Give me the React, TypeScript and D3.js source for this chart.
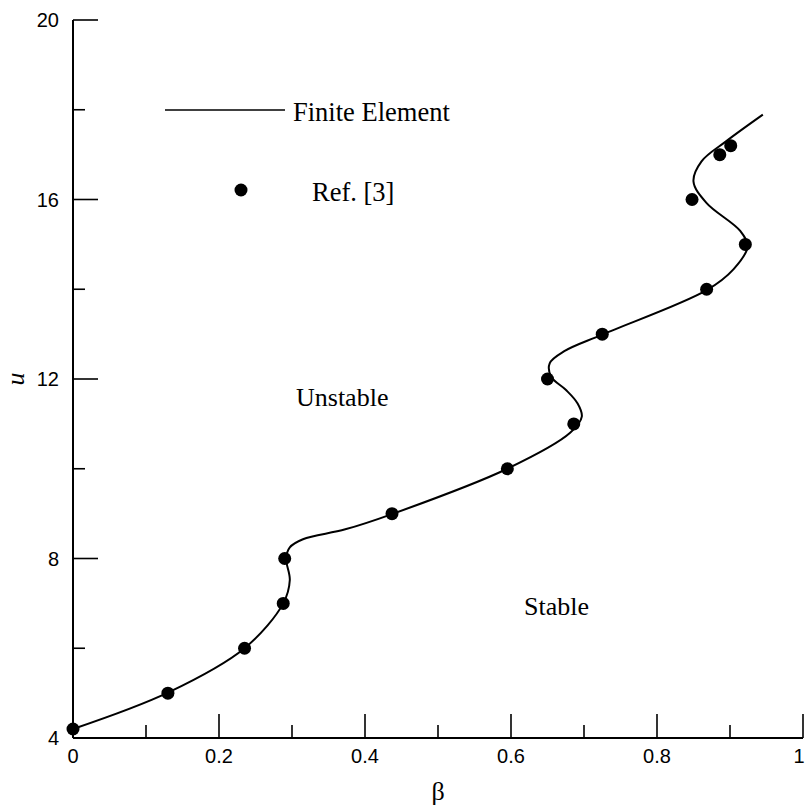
import { useEffect, useRef } from "react";
import * as d3 from "d3";

// finite element curve (beta, u)
const FE_BETA = [
  0, 0.13, 0.235, 0.288, 0.297, 0.292, 0.297, 0.315, 0.373, 0.437, 0.595, 0.681,
  0.697, 0.691, 0.675, 0.655, 0.653, 0.673, 0.725, 0.868, 0.905, 0.924, 0.914,
  0.868, 0.85, 0.861, 0.895, 0.945,
];
const FE_U = [
  4.2, 5.01, 6.0, 7.0, 7.52, 8.0, 8.25, 8.43, 8.65, 8.99, 10.0, 10.8, 11.16,
  11.46, 11.76, 12.05, 12.35, 12.62, 12.99, 13.98, 14.45, 14.95, 15.3, 15.92,
  16.4, 16.85, 17.3, 17.89,
];

// Ref. [3] points
const REF_BETA = [0, 0.13, 0.235, 0.288, 0.29, 0.437, 0.595, 0.686, 0.65, 0.725, 0.868, 0.921, 0.848, 0.886, 0.901];
const REF_U = [4.2, 5.0, 6.0, 7.0, 8.0, 9.0, 10.0, 11.0, 12.0, 13.0, 14.0, 15.0, 16.0, 17.0, 17.2];

const BETA_MAJOR = [0, 0.2, 0.4, 0.6, 0.8, 1];
const BETA_LABELS = ["0", "0.2", "0.4", "0.6", "0.8", "1"];
const BETA_MINOR = [0.1, 0.3, 0.5, 0.7, 0.9];
const U_MAJOR = [4, 8, 12, 16, 20];
const U_LABELS = ["4", "8", "12", "16", "20"];
const U_MINOR = [6, 10, 14, 18];

export default function App() {
  const ref = useRef<SVGSVGElement | null>(null);

  useEffect(() => {
    const svg = d3.select(ref.current);
    svg.selectAll("*").remove();

    const x = d3.scaleLinear().domain([0, 1]).range([73, 803]);
    const y = d3.scaleLinear().domain([4, 20]).range([738, 20]);
    const sans = "'Liberation Sans', Arial, sans-serif";
    const serif = "'Liberation Serif', 'Times New Roman', serif";

    // axes
    svg.append("line").attr("x1", x(0)).attr("x2", x(0)).attr("y1", y(20)).attr("y2", y(4))
      .attr("stroke", "#000").attr("stroke-width", 2);
    svg.append("line").attr("x1", x(0)).attr("x2", x(1)).attr("y1", y(4)).attr("y2", y(4))
      .attr("stroke", "#000").attr("stroke-width", 2);

    const tick = (x1: number, y1: number, x2: number, y2: number) =>
      svg.append("line").attr("x1", x1).attr("y1", y1).attr("x2", x2).attr("y2", y2)
        .attr("stroke", "#000").attr("stroke-width", 1.6);

    BETA_MAJOR.forEach((b, i) => {
      tick(x(b), y(4), x(b), y(4) - 24);
      svg.append("text").attr("x", Math.min(x(b), 799)).attr("y", 763).attr("text-anchor", "middle")
        .attr("font-family", sans).attr("font-size", 20).text(BETA_LABELS[i]);
    });
    BETA_MINOR.forEach((b) => tick(x(b), y(4), x(b), y(4) - 13));

    U_MAJOR.forEach((u, i) => {
      tick(x(0), y(u), x(0) + 25, y(u));
      svg.append("text").attr("x", 59).attr("y", y(u) + 7).attr("text-anchor", "end")
        .attr("font-family", sans).attr("font-size", 20).text(U_LABELS[i]);
    });
    U_MINOR.forEach((u) => tick(x(0), y(u), x(0) + 12, y(u)));

    // axis titles
    svg.append("text").attr("x", 438).attr("y", 800).attr("text-anchor", "middle")
      .attr("font-family", serif).attr("font-size", 26).text("β");
    svg.append("text").attr("transform", `translate(24, ${y(12)}) rotate(-90)`)
      .attr("text-anchor", "middle").attr("font-family", serif).attr("font-style", "italic")
      .attr("font-size", 26).text("u");

    // finite element curve
    const line = d3.line<number>()
      .x((i) => x(FE_BETA[i]))
      .y((i) => y(FE_U[i]))
      .curve(d3.curveCatmullRom.alpha(0.5));
    svg.append("path").attr("d", line(FE_BETA.map((_, i) => i)))
      .attr("fill", "none").attr("stroke", "#000").attr("stroke-width", 2);

    // reference points
    svg.selectAll(".ref").data(REF_BETA).enter().append("circle")
      .attr("class", "ref")
      .attr("cx", (d) => x(d)).attr("cy", (_, i) => y(REF_U[i])).attr("r", 6.5)
      .attr("fill", "#000");

    // legend
    svg.append("line").attr("x1", 165).attr("x2", 285).attr("y1", 110).attr("y2", 110)
      .attr("stroke", "#000").attr("stroke-width", 1.6);
    svg.append("text").attr("x", 293).attr("y", 121).attr("font-family", serif)
      .attr("font-size", 26.5).text("Finite Element");
    svg.append("circle").attr("cx", 241).attr("cy", 190).attr("r", 6.5).attr("fill", "#000");
    svg.append("text").attr("x", 312).attr("y", 201).attr("font-family", serif)
      .attr("font-size", 26.5).text("Ref. [3]");

    // region labels
    svg.append("text").attr("x", 296).attr("y", 406).attr("font-family", serif)
      .attr("font-size", 26).text("Unstable");
    svg.append("text").attr("x", 524).attr("y", 615).attr("font-family", serif)
      .attr("font-size", 26).text("Stable");
  }, []);

  return (
    <svg
      ref={ref}
      width={806}
      height={807}
      style={{ position: "absolute", left: 0, top: 0, background: "#fff" }}
    />
  );
}
